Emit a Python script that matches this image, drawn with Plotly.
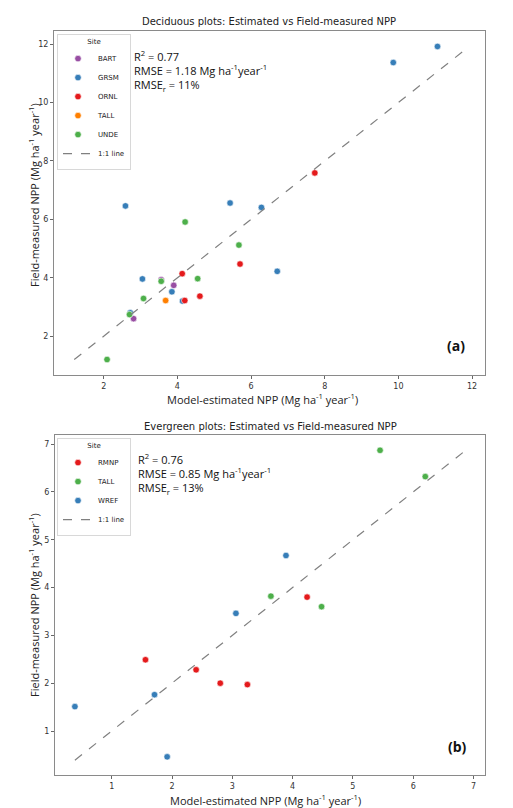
import plotly.graph_objects as go

W, H = 513, 808

# ---------------- Data: Deciduous (a) ----------------
dec_sites = ["BART", "GRSM", "ORNL", "TALL", "UNDE"]
dec_colors = ["#984ea3", "#377eb8", "#e41a1c", "#ff7f00", "#4daf4a"]
bart_x = [3.56, 3.90, 2.81]
bart_y = [3.93, 3.74, 2.60]
grsm_x = [9.86, 11.06, 2.59, 5.43, 6.28, 6.71, 3.05, 3.85, 4.14, 2.72]
grsm_y = [11.37, 11.92, 6.46, 6.56, 6.41, 4.22, 3.96, 3.52, 3.20, 2.80]
ornl_x = [7.73, 5.70, 4.13, 4.20, 4.61]
ornl_y = [7.59, 4.47, 4.14, 3.22, 3.37]
tall_dec_x = [3.68]
tall_dec_y = [3.22]
unde_x = [4.21, 5.67, 3.56, 4.55, 3.08, 2.70, 2.09]
unde_y = [5.91, 5.12, 3.88, 3.97, 3.29, 2.74, 1.20]
dec_x = [bart_x, grsm_x, ornl_x, tall_dec_x, unde_x]
dec_y = [bart_y, grsm_y, ornl_y, tall_dec_y, unde_y]
dec_stats = "R<sup>2</sup> = 0.77<br>RMSE = 1.18 Mg ha<sup>-1</sup>year<sup>-1</sup><br>RMSE<sub>r</sub> = 11%"

# ---------------- Data: Evergreen (b) ----------------
ev_sites = ["RMNP", "TALL", "WREF"]
ev_colors = ["#e41a1c", "#4daf4a", "#377eb8"]
rmnp_x = [1.56, 2.40, 2.80, 3.25, 4.24]
rmnp_y = [2.49, 2.28, 2.00, 1.97, 3.80]
tall_ev_x = [5.45, 6.20, 3.64, 4.48]
tall_ev_y = [6.87, 6.32, 3.82, 3.60]
wref_x = [3.89, 3.06, 0.39, 1.71, 1.92]
wref_y = [4.67, 3.46, 1.51, 1.76, 0.46]
ev_x = [rmnp_x, tall_ev_x, wref_x]
ev_y = [rmnp_y, tall_ev_y, wref_y]
ev_stats = "R<sup>2</sup> = 0.76<br>RMSE = 0.85 Mg ha<sup>-1</sup>year<sup>-1</sup><br>RMSE<sub>r</sub> = 13%"

fig = go.Figure()

def add_panel(xs, ys, sites, colors, xa, ya, legend):
    for s, c, x, y in zip(sites, colors, xs, ys):
        fig.add_trace(go.Scatter(
            x=x, y=y, mode="markers", name=s,
            marker=dict(color=c, size=6.5, line=dict(color="white", width=0.6)),
            xaxis=xa, yaxis=ya, legend=legend))
    allv = [v for arr in xs + ys for v in arr]
    lo, hi = min(allv), max(allv)
    fig.add_trace(go.Scatter(
        x=[lo, hi], y=[lo, hi], mode="lines", name="1:1 line",
        line=dict(color="gray", dash="dash", width=1.2),
        xaxis=xa, yaxis=ya, legend=legend))

add_panel(dec_x, dec_y, dec_sites, dec_colors, "x", "y", "legend")
add_panel(ev_x, ev_y, ev_sites, ev_colors, "x2", "y2", "legend2")

def px_x(p):
    return p / W

def px_y(p):
    return 1 - p / H

axis_common = dict(showgrid=False, zeroline=False, showline=True, mirror=True,
                   linecolor="#8a8a8a", linewidth=1, ticks="outside", ticklen=3,
                   tickcolor="#666", tickfont=dict(family="DejaVu Sans", size=8, color="#333"))

legend_common = dict(xanchor="left", yanchor="top",
                     bgcolor="white", bordercolor="#d8d8d8", borderwidth=1,
                     font=dict(family="DejaVu Sans", size=7, color="#222"),
                     title=dict(text="Site", side="top center",
                                font=dict(family="DejaVu Sans", size=7)),
                     itemwidth=30, tracegroupgap=0)

fig.update_layout(
    width=W, height=H, margin=dict(l=0, r=0, t=0, b=0),
    plot_bgcolor="white", paper_bgcolor="white",
    xaxis=dict(domain=[px_x(46), px_x(477)], range=[0.65, 12.35], tickvals=[2, 4, 6, 8, 10, 12],
               anchor="y", **axis_common),
    yaxis=dict(domain=[px_y(367), px_y(23)], range=[0.67, 12.45], tickvals=[2, 4, 6, 8, 10, 12],
               anchor="x", **axis_common),
    xaxis2=dict(domain=[px_x(47), px_x(477)], range=[0.06, 7.19], tickvals=[1, 2, 3, 4, 5, 6, 7],
                anchor="y2", **axis_common),
    yaxis2=dict(domain=[px_y(767), px_y(427)], range=[0.08, 7.19], tickvals=[1, 2, 3, 4, 5, 6, 7],
                anchor="x2", **axis_common),
    legend=dict(x=px_x(49), y=px_y(26), **legend_common),
    legend2=dict(x=px_x(49), y=px_y(430), **legend_common),
    showlegend=True,
)

label_font = dict(family="Open Sans", size=11, color="#222")
stats_font = dict(family="Open Sans", size=11, color="#111")
ann = [
    dict(text="Deciduous plots: Estimated vs Field-measured NPP", x=px_x(261), y=px_y(13),
         font=dict(family="DejaVu Sans", size=10, color="#222")),
    dict(text="Evergreen plots: Estimated vs Field-measured NPP", x=px_x(262), y=px_y(418),
         font=dict(family="DejaVu Sans", size=10, color="#222")),
    dict(text="Model-estimated NPP (Mg ha<sup>-1</sup> year<sup>-1</sup>)", x=px_x(254), y=px_y(401),
         yanchor="bottom", font=label_font),
    dict(text="Model-estimated NPP (Mg ha<sup>-1</sup> year<sup>-1</sup>)", x=px_x(257), y=px_y(802),
         yanchor="bottom", font=label_font),
    dict(text="Field-measured NPP (Mg ha<sup>-1</sup> year<sup>-1</sup>)", x=px_x(26), y=px_y(187),
         textangle=-90, font=label_font),
    dict(text="Field-measured NPP (Mg ha<sup>-1</sup> year<sup>-1</sup>)", x=px_x(26), y=px_y(597),
         textangle=-90, font=label_font),
    dict(text=dec_stats, x=px_x(124), y=px_y(38), xanchor="left", yanchor="top", align="left",
         font=stats_font),
    dict(text=ev_stats, x=px_x(128), y=px_y(441), xanchor="left", yanchor="top", align="left",
         font=stats_font),
    dict(text="<b>(a)</b>", x=px_x(448), y=px_y(337),
         font=dict(family="Open Sans", size=14, color="#111")),
    dict(text="<b>(b)</b>", x=px_x(449), y=px_y(738),
         font=dict(family="Open Sans", size=14, color="#111")),
]
for a in ann:
    base = dict(xref="paper", yref="paper", showarrow=False, xanchor="center", yanchor="middle")
    base.update(a)
    fig.add_annotation(**base)

fig.write_html("out.html")
